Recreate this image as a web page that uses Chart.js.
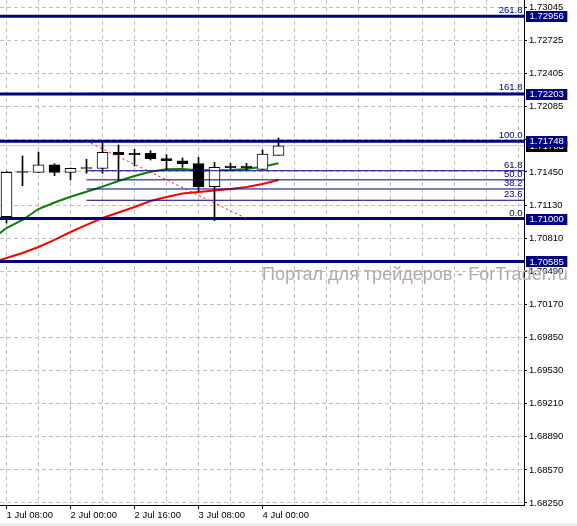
<!DOCTYPE html>
<html>
<head>
<meta charset="utf-8">
<script src="https://cdn.jsdelivr.net/npm/chart.js@4.4.1/dist/chart.umd.min.js"></script>
<style>
html, body { margin: 0; padding: 0; background: #fff; }
canvas { display: block; }
</style>
</head>
<body>
<canvas id="chart" width="577" height="526"></canvas>
<script>
// H4 candles, 1 Jul 08:00 .. 4 Jul 04:00
const timeLabels = ['1 Jul 08:00', '2 Jul 00:00', '2 Jul 16:00', '3 Jul 08:00', '4 Jul 00:00'];
const opens  = [1.71018, 1.71447, 1.71447, 1.71518, 1.71447, 1.71486, 1.71484, 1.71640, 1.71631, 1.71631, 1.71580, 1.71559, 1.71532, 1.71308, 1.71508, 1.71508, 1.71476, 1.71611];
const highs  = [1.71453, 1.71605, 1.71643, 1.71530, 1.71488, 1.71573, 1.71740, 1.71711, 1.71669, 1.71656, 1.71617, 1.71585, 1.71592, 1.71544, 1.71534, 1.71534, 1.71663, 1.71779];
const lows   = [1.70955, 1.71317, 1.71445, 1.71414, 1.71373, 1.71437, 1.71437, 1.71373, 1.71508, 1.71566, 1.71476, 1.71495, 1.71263, 1.70980, 1.71476, 1.71469, 1.71474, 1.71611];
const closes = [1.71447, 1.71445, 1.71518, 1.71447, 1.71486, 1.71484, 1.71640, 1.71617, 1.71617, 1.71578, 1.71559, 1.71530, 1.71305, 1.71495, 1.71491, 1.71491, 1.71624, 1.71703];

// moving averages, first value belongs to the bar before the first visible one
const maFast = [1.70793, 1.70908, 1.70986, 1.71092, 1.71155, 1.71211, 1.71259, 1.71308, 1.71363, 1.71411, 1.71453, 1.71476, 1.71479, 1.71466, 1.71466, 1.71469, 1.71479, 1.71501, 1.71534];
const maSlow = [1.70570, 1.70619, 1.70667, 1.70725, 1.70793, 1.70870, 1.70938, 1.71005, 1.71058, 1.71112, 1.71170, 1.71208, 1.71242, 1.71257, 1.71271, 1.71286, 1.71305, 1.71334, 1.71373];

const levels = [1.72956, 1.72203, 1.71748, 1.71000, 1.70585];
const bidPrice = 1.71703;

const fibHigh = 1.71748;
const fibLow = 1.71000;
const fibRatios = [0, 0.236, 0.382, 0.5, 0.618, 1, 1.618, 2.618];
const fibStart = 5;   // bar index where the fibo is anchored
const fibEnd = 15;

const yTicks = ['1.73045', '1.72725', '1.72405', '1.72085', '1.71765', '1.71450', '1.71130', '1.70810',
                '1.70490', '1.70170', '1.69850', '1.69530', '1.69210', '1.68890', '1.68570', '1.68250'];
const watermark = 'Портал для трейдеров - ForTrader.ru';

const FONT = '"Liberation Sans", Arial, sans-serif';
const NAVY = '#000080';
const X_MIN = -0.40625, X_MAX = 32.34375;

Chart.defaults.font.family = FONT;

const wicks = highs.map((h, i) => ({ x: i, y: [lows[i], h] }));
const bodies = opens.map((o, i) => ({ x: i, y: [o, closes[i]] }));
const bodyColors = opens.map((o, i) => closes[i] > o ? '#ffffff' : '#000000');

const hline = (v, from) => [{ x: from, y: v }, { x: X_MAX + 2, y: v }];

const datasets = [];
// drawn on top first
datasets.push({
    type: 'line', data: [{ x: fibStart, y: fibHigh }, { x: fibEnd, y: fibLow }],
    borderColor: '#ff0000', borderWidth: 1, borderDash: [2, 3], pointRadius: 0
});
levels.forEach(v => datasets.push({
    type: 'line', data: hline(v, X_MIN - 2), borderColor: NAVY, borderWidth: 3, pointRadius: 0
}));
fibRatios.forEach(r => datasets.push({
    type: 'line', data: hline(fibLow + r * (fibHigh - fibLow), fibStart),
    borderColor: NAVY, borderWidth: 1, pointRadius: 0
}));
datasets.push({
    type: 'bar', data: bodies, backgroundColor: bodyColors, borderColor: '#000', borderWidth: 1,
    borderSkipped: false, barThickness: 11, maxBarThickness: 11, minBarLength: 1, grouped: false
});
datasets.push({
    type: 'bar', data: wicks, backgroundColor: '#000', borderWidth: 0,
    barThickness: 1, maxBarThickness: 1, grouped: false
});
datasets.push({
    type: 'line', data: maFast.map((v, i) => ({ x: i - 1, y: v })),
    borderColor: '#0b7d0b', borderWidth: 2, pointRadius: 0
});
datasets.push({
    type: 'line', data: maSlow.map((v, i) => ({ x: i - 1, y: v })),
    borderColor: '#ff0000', borderWidth: 2, pointRadius: 0
});
datasets.push({
    type: 'line', data: hline(bidPrice, X_MIN - 2), borderColor: '#c4c4c4', borderWidth: 1, pointRadius: 0
});

function priceBox(ctx, y, text, bg) {
    const w = ctx.measureText(text).width;
    ctx.fillStyle = bg;
    ctx.fillRect(526, Math.round(y) - 5, w + 7, 11);
    ctx.fillStyle = '#fff';
    ctx.fillText(text, 529.5, y + 0.5);
}

const overlay = {
    id: 'overlay',
    afterDraw(chart) {
        const { ctx, chartArea } = chart;
        const y = chart.scales.y;
        ctx.save();

        ctx.font = '18px ' + FONT;
        ctx.fillStyle = '#b3a9a9';
        ctx.textAlign = 'left';
        ctx.textBaseline = 'alphabetic';
        ctx.fillText(watermark, 262, 280);

        ctx.font = '9.5px ' + FONT;
        ctx.fillStyle = NAVY;
        ctx.textAlign = 'right';
        fibRatios.forEach(r => {
            const py = y.getPixelForValue(fibLow + r * (fibHigh - fibLow));
            ctx.fillText((r * 100).toFixed(1), chartArea.right - 1.5, py - 3);
        });

        ctx.textAlign = 'left';
        ctx.textBaseline = 'middle';
        priceBox(ctx, y.getPixelForValue(bidPrice), bidPrice.toFixed(5), '#000');
        levels.forEach(v => priceBox(ctx, y.getPixelForValue(v), v.toFixed(5), NAVY));

        ctx.fillStyle = '#ececec';
        ctx.fillRect(0, 523, 577, 3);
        ctx.restore();
    }
};

new Chart(document.getElementById('chart'), {
    type: 'line',
    data: { datasets },
    options: {
        responsive: false,
        animation: false,
        devicePixelRatio: 1,
        layout: { padding: 0 },
        plugins: { legend: { display: false }, tooltip: { enabled: false } },
        scales: {
            x: {
                type: 'linear', position: 'bottom', min: X_MIN, max: X_MAX,
                offset: false,
                grid: {
                    offset: false, color: '#c0c0c0', lineWidth: 1, tickLength: 4,
                    tickColor: c => (c.tick && c.tick.label) ? '#000' : 'rgba(0,0,0,0)'
                },
                border: { color: '#000', width: 1, dash: [4, 3] },
                ticks: {
                    autoSkip: false, maxRotation: 0, align: 'start', padding: 1,
                    color: '#000', font: { size: 9.5 },
                    callback: v => (v % 4 === 0 && v / 4 < timeLabels.length) ? timeLabels[v / 4] : ''
                },
                afterBuildTicks: s => {
                    s.ticks = [];
                    for (let i = 0; i <= 32; i += 2) s.ticks.push({ value: i });
                },
                afterFit: s => {
                    s.height = 21;
                    s.paddingLeft = 0; s.paddingRight = 0; s.paddingTop = 0; s.paddingBottom = 0;
                }
            },
            y: {
                type: 'linear', position: 'right', min: 1.682306, max: 1.731127,
                beginAtZero: false,
                grid: { color: '#c0c0c0', lineWidth: 1, tickLength: 3, tickColor: '#000' },
                border: { color: '#000', width: 1, dash: [4, 3] },
                ticks: {
                    autoSkip: false, padding: 2, color: '#000', font: { size: 9.5 },
                    callback: (v, i) => yTicks[i]
                },
                afterBuildTicks: s => { s.ticks = yTicks.map(t => ({ value: parseFloat(t) })); },
                afterFit: s => {
                    s.width = 53;
                    s.paddingLeft = 0; s.paddingRight = 0; s.paddingTop = 0; s.paddingBottom = 0;
                }
            }
        }
    },
    plugins: [overlay]
});
</script>
</body>
</html>
